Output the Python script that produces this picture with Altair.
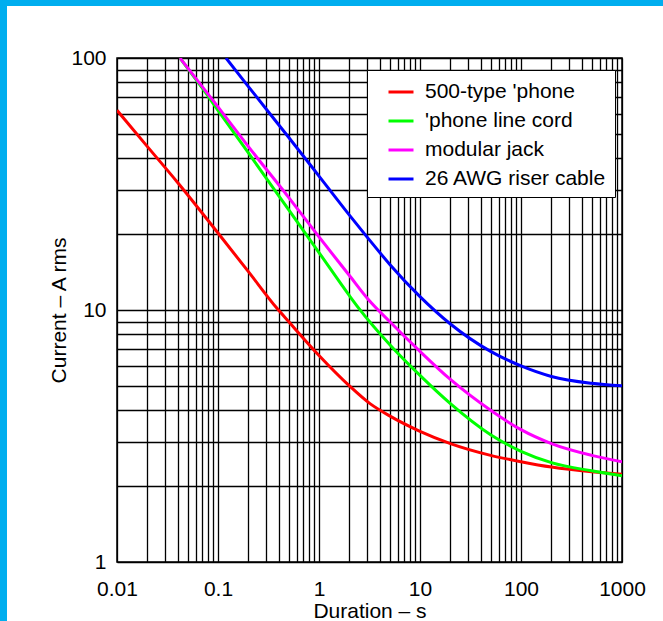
import altair as alt
import pandas as pd

# ---- data ----
series_names = ["500-type 'phone", "'phone line cord", "modular jack", "26 AWG riser cable"]
series_colors = ["#FF0000", "#00FF00", "#FF00FF", "#0000FF"]

red_t = [0.01, 0.02, 0.04, 0.1, 0.2, 0.38, 0.5, 1, 2, 3.2, 5, 10, 20, 50, 100, 200, 500, 1000]
red_i = [62, 44.5, 32, 20.2, 14.2, 10.2, 9.0, 6.6, 5.0, 4.25, 3.8, 3.3, 2.95, 2.65, 2.5, 2.38, 2.28, 2.23]

green_t = [0.042, 0.077, 0.1, 0.2, 0.5, 1, 2, 2.46, 5, 10, 20, 50, 100, 200, 500, 1000]
green_i = [100, 72, 62, 42, 25, 16.9, 11.4, 10.2, 7.3, 5.5, 4.25, 3.2, 2.75, 2.48, 2.3, 2.2]

magenta_t = [0.042, 0.1, 0.2, 0.5, 1, 2, 3.08, 5, 10, 20, 50, 100, 200, 500, 1000]
magenta_i = [100, 64, 44.5, 28, 19.5, 13.7, 11, 9.0, 6.85, 5.3, 4.0, 3.35, 2.95, 2.65, 2.5]

blue_t = [0.12, 0.2, 0.5, 1, 2, 3.08, 5, 10, 20, 50, 100, 200, 500, 1000]
blue_i = [100, 77, 48.5, 34, 23.8, 19.2, 15.2, 11.3, 8.8, 6.85, 6.0, 5.45, 5.12, 5.0]

x_decades = [0.01, 0.1, 1, 10, 100, 1000]
y_decades = [1, 10, 100]
minor_steps = [1, 2, 3, 4, 5, 6, 7, 8, 9]

x_grid = [d * m for d in x_decades[:-1] for m in minor_steps] + [x_decades[-1]]
y_grid = [d * m for d in y_decades[:-1] for m in minor_steps] + [y_decades[-1]]

rows = []
for name, ts, cs in zip(series_names,
                        [red_t, green_t, magenta_t, blue_t],
                        [red_i, green_i, magenta_i, blue_i]):
    for k, (t, c) in enumerate(zip(ts, cs)):
        rows.append({"series": name, "t": t, "i": c, "k": k})
df = pd.DataFrame(rows)

FONT = "Liberation Sans"
FS = 21
W, H = 505, 504
PL, PT, PR, PB = 117, 58, 41, 59
BLUE = "#00AEEF"

lines = alt.Chart(df).mark_line(strokeWidth=3, clip=True, interpolate="monotone").encode(
    x=alt.X("t:Q",
            scale=alt.Scale(type="log", domain=[0.01, 1000], nice=False),
            axis=alt.Axis(values=x_grid, grid=True, gridColor="#000000", gridWidth=1.3,
                          gridOpacity=1, ticks=False, domain=False, labelPadding=16,
                          labelFlush=False, labelOverlap=False, labelBound=False,
                          labelExpr="indexof(%s, datum.value) >= 0 ? format(datum.value, '~g') : ''" % str(x_decades),
                          labelFontSize=FS, labelFont=FONT, labelColor="#000",
                          title="Duration – s", titleFontSize=FS, titleFont=FONT,
                          titleFontWeight="normal", titleColor="#000",
                          titleBaseline="alphabetic", titleY=55, titleX=W / 2)),
    y=alt.Y("i:Q",
            scale=alt.Scale(type="log", domain=[1, 100], nice=False),
            axis=alt.Axis(values=y_grid, grid=True, gridColor="#000000", gridWidth=1.3,
                          gridOpacity=1, ticks=False, domain=False, labelPadding=11,
                          labelFlush=False, labelOverlap=False, labelBound=False,
                          labelExpr="indexof(%s, datum.value) >= 0 ? format(datum.value, '~g') : ''" % str(y_decades),
                          labelFontSize=FS, labelFont=FONT, labelColor="#000",
                          labelBaseline="middle",
                          title="Current – A rms", titleFontSize=FS, titleFont=FONT,
                          titleFontWeight="normal", titleColor="#000",
                          titleAngle=270, titleBaseline="alphabetic", titleX=-52, titleY=H / 2)),
    color=alt.Color("series:N",
                    scale=alt.Scale(domain=series_names, range=series_colors),
                    legend=alt.Legend(title=None, orient="none", legendX=250, legendY=12,
                                      fillColor="#FFFFFF", strokeColor="#000000",
                                      padding=8, symbolType="stroke", symbolSize=625,
                                      symbolStrokeWidth=3, symbolOffset=12, labelOffset=10,
                                      labelFontSize=FS, labelFont=FONT, labelColor="#000",
                                      labelLimit=0, rowPadding=5)),
    order=alt.Order("k:Q"),
)

frame_df = pd.DataFrame({"a": [0]})
left_strip = alt.Chart(frame_df).mark_rect(color=BLUE).encode(
    x=alt.value(-PL), x2=alt.value(-PL + 7),
    y=alt.value(-PT), y2=alt.value(H + PB),
)
top_strip = alt.Chart(frame_df).mark_rect(color=BLUE).encode(
    x=alt.value(-PL), x2=alt.value(W + PR),
    y=alt.value(-PT), y2=alt.value(-PT + 6),
)

chart = alt.layer(lines, left_strip, top_strip).properties(
    width=W, height=H,
    autosize=alt.AutoSizeParams(type="none"),
    padding={"left": PL, "top": PT, "right": PR, "bottom": PB},
    background="#FFFFFF",
).configure_view(stroke="#000000", strokeWidth=1.5)

chart.save("out.html", embed_options={"renderer": "svg", "actions": False})
